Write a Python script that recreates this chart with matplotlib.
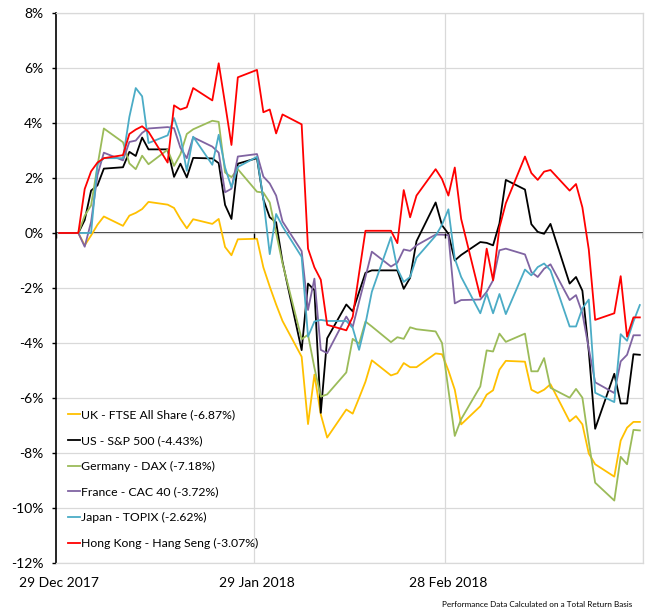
import pandas as pd
import matplotlib
matplotlib.use("Agg")
import matplotlib.pyplot as plt

plt.rcParams["font.family"] = ["Lato", "DejaVu Sans"]

# -----------------------------
# Data (cumulative total return, %)
# weekdays 29 Dec 2017 - 30 Mar 2018
# -----------------------------
dates = pd.bdate_range("2017-12-29", "2018-03-30") + pd.Timedelta(hours=12)

uk = [0,
      0, -0.45, -0.09, 0.3, 0.6,
      0.26, 0.63, 0.73, 0.87, 1.13,
      1.03, 0.91, 0.51, 0.17, 0.5,
      0.33, 0.51, -0.51, -0.81, -0.23,
      -0.21, -1.25, -1.95, -2.6, -3.2,
      -4.5, -6.95, -5.15, -6.6, -7.44,
      -6.42, -6.57, -6.0, -5.41, -4.63,
      -5.18, -5.1, -4.73, -4.88, -4.88,
      -4.38, -4.41, -5.0, -5.7, -6.96,
      -6.3, -5.88, -5.72, -4.97, -4.65,
      -4.68, -5.7, -5.82, -5.7, -5.5,
      -6.85, -6.66, -6.96, -8.02, -8.41,
      -8.86, -7.55, -7.08, -6.87, -6.87]

us = [0,
      0, 0.47, 1.54, 1.73, 2.34,
      2.39, 2.95, 2.8, 3.47, 3.04,
      3.04, 2.04, 2.52, 2.02, 2.73,
      2.71, 2.54, 1.02, 0.51, 2.52,
      2.72, 1.22, 0.57, 0.39, -1.05,
      -4.26, -1.84, -2.08, -6.54, -3.83,
      -2.6, -2.85, -2.15, -1.45, -1.36,
      -1.36, -1.36, -2.03, -1.63, -0.3,
      1.11, 0.28, -0.03, -1.0, -0.8,
      -0.33, -0.36, -0.45, 0.35, 1.93,
      1.58, 0.32, 0.04, -0.03, 0.33,
      -1.84, -1.6, -2.1, -4.3, -7.12,
      -5.12, -6.2, -6.2, -4.41, -4.43]

germany = [0,
           0, 0.63, 1.0, 2.44, 3.8,
           3.3, 2.53, 2.32, 2.81, 2.5,
           3.03, 2.44, 2.86, 3.6, 3.77,
           4.08, 4.04, 2.2, 2.03, 2.32,
           1.5, 1.47, 1.11, 0.0, -1.1,
           -3.86, -3.7, -4.9, -5.95, -5.87,
           -5.07, -3.85, -4.03, -3.22, -3.4,
           -3.97, -3.79, -3.85, -3.43, -3.5,
           -3.58, -4.0, -5.7, -7.38, -6.77,
           -5.58, -4.27, -4.31, -3.66, -3.96,
           -3.66, -5.03, -5.03, -4.55, -5.63,
           -5.99, -5.67, -5.99, -7.6, -9.08,
           -9.73, -8.14, -8.41, -7.16, -7.18]

france = [0,
          0, -0.5, 0.4, 2.1, 2.92,
          2.64, 3.31, 3.36, 3.64, 3.8,
          3.85, 3.81, 3.1, 2.72, 3.48,
          3.14, 2.92, 1.48, 1.61, 2.78,
          2.87, 2.05, 1.8, 1.36, 0.42,
          -0.66, -2.8, -1.66, -4.25, -4.37,
          -3.04, -3.42, -2.5, -1.6, -0.68,
          -1.22, -1.08, -0.6, -0.65, -0.45,
          -0.06, -0.06, -0.08, -2.56, -2.44,
          -2.42, -2.14, -1.72, -0.63, -0.57,
          -0.78, -1.42, -1.6, -1.3, -1.14,
          -2.44, -2.26, -2.92, -4.2, -5.43,
          -5.82, -4.67, -4.43, -3.72, -3.72]

japan = [0,
         0, 0, 0, 2.5, 2.72,
         2.72, 4.22, 5.27, 4.97, 3.27,
         3.55, 4.18, 3.5, 2.26, 3.5,
         2.48, 3.57, 2.38, 1.66, 2.4,
         2.77, 1.23, -0.77, 0.69, 0.24,
         -0.87, -3.77, -3.22, -3.16, -3.2,
         -3.2, -3.45, -4.25, -3.3, -2.14,
         -0.15, -1.3, -1.78, -1.6, -0.9,
         -0.1, 0.3, 0.86, -0.93, -1.6,
         -2.92, -2.2, -2.92, -2.22, -2.95,
         -1.33, -1.54, -1.24, -1.11, -1.36,
         -3.4, -3.4, -2.74, -2.42, -5.81,
         -6.15, -3.68, -3.92, -3.22, -2.62]

hong_kong = [0,
             0, 1.6, 2.24, 2.56, 2.72,
             2.83, 3.6, 3.76, 3.88, 3.68,
             2.56, 4.64, 4.49, 4.57, 5.27,
             4.82, 6.17, 4.7, 3.2, 5.66,
             5.93, 4.39, 4.49, 3.62, 4.31,
             3.95, -0.57, -1.25, -1.7, -3.34,
             -3.54, -3.05, -1.47, 0.08, 0.08,
             0.08, -0.37, 1.56, 0.57, 1.36,
             2.32, 1.96, 1.36, 2.38, 0.51,
             -2.32, -0.57, -1.72, 0.2, 1.08,
             2.78, 2.18, 1.93, 2.23, 2.29,
             1.54, 1.78, 0.93, -0.6, -3.16,
             -2.92, -1.57, -3.77, -3.07, -3.07]

series = [
    ("UK - FTSE All Share (-6.87%)", uk, "#FFC000"),
    ("US - S&P 500 (-4.43%)", us, "#000000"),
    ("Germany - DAX (-7.18%)", germany, "#9BBB59"),
    ("France - CAC 40 (-3.72%)", france, "#8064A2"),
    ("Japan - TOPIX (-2.62%)", japan, "#4BACC6"),
    ("Hong Kong - Hang Seng (-3.07%)", hong_kong, "#FF0000"),
]

month_ticks = pd.to_datetime(["2017-12-29", "2018-01-29", "2018-02-28", "2018-03-31"])
month_labels = ["29 Dec 2017", "29 Jan 2018", "28 Feb 2018"]

# -----------------------------
# Plot
# -----------------------------
fig = plt.figure(figsize=(6.48, 6.12), dpi=100)
ax = fig.add_axes([0.0864, 0.0801, 0.9059, 0.8987])

grid = "#D9D9D9"
ax.set_ylim(-12, 8)
ax.set_xlim(month_ticks[0], month_ticks[-1])
ax.set_yticks(range(-12, 9, 2))
ax.set_yticklabels([f"{v}%" for v in range(-12, 9, 2)])
ax.grid(axis="y", color=grid, linewidth=0.9)
for t in month_ticks[1:]:
    ax.axvline(t, color=grid, linewidth=0.9, zorder=0)

for name, vals, col in series:
    ax.plot(dates, vals, color=col, linewidth=1.3, label=name)

# zero line acting as the category axis
ax.axhline(0, color="#000000", linewidth=1.1, zorder=1)
ax.vlines(month_ticks, -0.17, 0, color="#000000", linewidth=1.0)

# labels sit in the middle of each day slot, below the plot
ax.set_xticks(month_ticks)
ax.set_xticklabels([])
ax.tick_params(axis="x", length=0)
ax.set_xticks(month_ticks[:3] + pd.Timedelta(hours=12), minor=True)
ax.set_xticklabels(month_labels, minor=True)
ax.tick_params(axis="x", which="minor", length=0, pad=10, labelsize=10, colors="#000000")
ax.tick_params(axis="y", direction="out", length=3, width=1, pad=6, labelsize=10)

for side in ["top", "right", "bottom"]:
    ax.spines[side].set_color(grid)
    ax.spines[side].set_linewidth(0.9)
ax.spines["left"].set_color("#000000")
ax.spines["left"].set_linewidth(1.2)

leg = ax.legend(loc="upper left", bbox_to_anchor=(0.02, 0.279), frameon=False,
                fontsize=8.8, handlelength=1.0, handletextpad=0.1,
                labelspacing=1.2, borderpad=0, borderaxespad=0)

fig.text(0.976, 0.0065, "Performance Data Calculated on a Total Return Basis",
         ha="right", va="bottom", fontsize=5.9)

plt.savefig("out.png", dpi=100)
